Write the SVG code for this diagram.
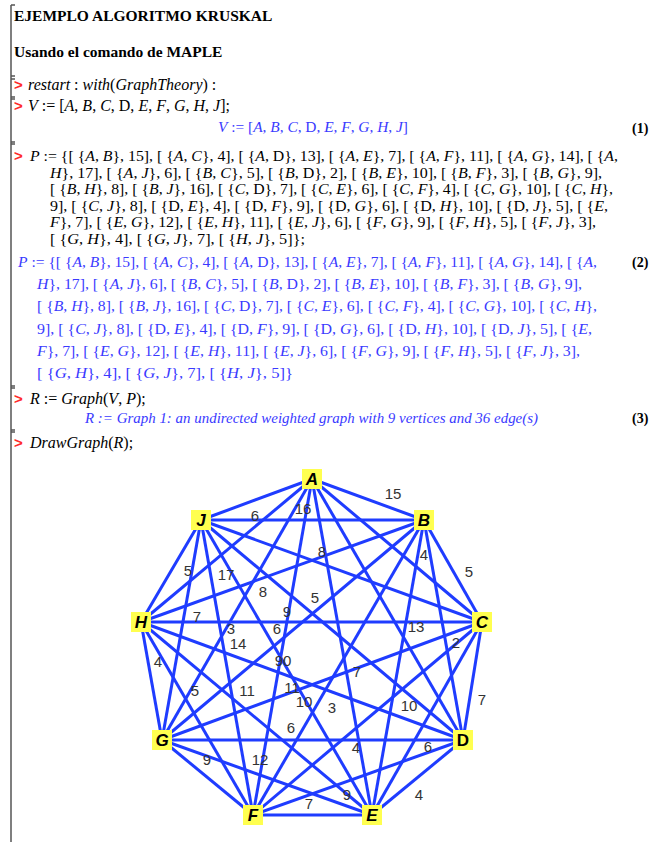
<svg xmlns="http://www.w3.org/2000/svg" width="650" height="842" viewBox="0 0 650 842">
<style>
.bg{fill:#ffffff}
.br{stroke:#555;stroke-width:1.5;fill:none}
.h{font-family:"Liberation Serif",serif;font-weight:bold;font-size:15.5px;fill:#000}
.pr{font-family:"Liberation Sans",sans-serif;font-weight:bold;font-size:15px;fill:#ff2a2a}
.in{font-family:"Liberation Serif",serif;font-size:16px;fill:#000}
.pin{font-family:"Liberation Serif",serif;font-size:14.5px;fill:#000}
.out{font-family:"Liberation Serif",serif;font-size:15px;fill:#3a3aff}
.i{font-style:italic}
.num{font-family:"Liberation Serif",serif;font-weight:bold;font-size:14px;fill:#000}
.e{stroke:#1f3cff;stroke-width:3;fill:none}
.nb{fill:#ffff4f}
.nl{font-family:"Liberation Sans",sans-serif;font-weight:bold;font-style:italic;font-size:17px;fill:#000;text-anchor:middle}
.wl{font-family:"Liberation Sans",sans-serif;font-size:15px;fill:#333;text-anchor:middle}
</style>
<rect class="bg" x="0" y="0" width="650" height="842"/>
<g id="brackets">
<path class="br" d="M11,5 V842 M11,5 H15 M11,76 H15 M11,79 H15 M11,97 H15 M11,99 H15 M11,142 H15 M11,144 H15 M11,386 H15 M11,388 H15 M11,430 H15 M11,432 H15"/>
</g>
<g id="worksheet-text">
<text class="h" x="14" y="21">EJEMPLO ALGORITMO KRUSKAL</text>
<text class="h" x="14" y="57">Usando el comando de MAPLE</text>
<text class="pr" x="14" y="90">&gt;</text>
<text class="in" x="28" y="90"><tspan class="i">restart</tspan> : <tspan class="i">with</tspan>(<tspan class="i">GraphTheory</tspan>) :</text>
<text class="pr" x="14" y="111">&gt;</text>
<text class="in" x="28" y="111"><tspan class="i">V</tspan> := [<tspan class="i">A</tspan>, <tspan class="i">B</tspan>, <tspan class="i">C</tspan>, D, <tspan class="i">E</tspan>, <tspan class="i">F</tspan>, <tspan class="i">G</tspan>, <tspan class="i">H</tspan>, <tspan class="i">J</tspan>];</text>
<text class="out" x="218" y="132" textLength="190" lengthAdjust="spacingAndGlyphs"><tspan class="i">V</tspan> := [<tspan class="i">A</tspan>, <tspan class="i">B</tspan>, <tspan class="i">C</tspan>, D, <tspan class="i">E</tspan>, <tspan class="i">F</tspan>, <tspan class="i">G</tspan>, <tspan class="i">H</tspan>, <tspan class="i">J</tspan>]</text>
<text class="num" x="632" y="133">(1)</text>

<text class="pr" x="14" y="161">&gt;</text>
<text class="pin" x="30" y="161" textLength="588" lengthAdjust="spacingAndGlyphs"><tspan class="i">P</tspan> := {[ {<tspan class="i">A</tspan>, <tspan class="i">B</tspan>}, 15], [ {<tspan class="i">A</tspan>, <tspan class="i">C</tspan>}, 4], [ {<tspan class="i">A</tspan>, D}, 13], [ {<tspan class="i">A</tspan>, <tspan class="i">E</tspan>}, 7], [ {<tspan class="i">A</tspan>, <tspan class="i">F</tspan>}, 11], [ {<tspan class="i">A</tspan>, <tspan class="i">G</tspan>}, 14], [ {<tspan class="i">A</tspan>,</text>
<text class="pin" x="50" y="177.5" textLength="552" lengthAdjust="spacingAndGlyphs"><tspan class="i">H</tspan>}, 17], [ {<tspan class="i">A</tspan>, <tspan class="i">J</tspan>}, 6], [ {<tspan class="i">B</tspan>, <tspan class="i">C</tspan>}, 5], [ {<tspan class="i">B</tspan>, D}, 2], [ {<tspan class="i">B</tspan>, <tspan class="i">E</tspan>}, 10], [ {<tspan class="i">B</tspan>, <tspan class="i">F</tspan>}, 3], [ {<tspan class="i">B</tspan>, <tspan class="i">G</tspan>}, 9],</text>
<text class="pin" x="50" y="194" textLength="563" lengthAdjust="spacingAndGlyphs">[ {<tspan class="i">B</tspan>, <tspan class="i">H</tspan>}, 8], [ {<tspan class="i">B</tspan>, <tspan class="i">J</tspan>}, 16], [ {<tspan class="i">C</tspan>, D}, 7], [ {<tspan class="i">C</tspan>, <tspan class="i">E</tspan>}, 6], [ {<tspan class="i">C</tspan>, <tspan class="i">F</tspan>}, 4], [ {<tspan class="i">C</tspan>, <tspan class="i">G</tspan>}, 10], [ {<tspan class="i">C</tspan>, <tspan class="i">H</tspan>},</text>
<text class="pin" x="50" y="210.5" textLength="558" lengthAdjust="spacingAndGlyphs">9], [ {<tspan class="i">C</tspan>, <tspan class="i">J</tspan>}, 8], [ {D, <tspan class="i">E</tspan>}, 4], [ {D, <tspan class="i">F</tspan>}, 9], [ {D, <tspan class="i">G</tspan>}, 6], [ {D, <tspan class="i">H</tspan>}, 10], [ {D, <tspan class="i">J</tspan>}, 5], [ {<tspan class="i">E</tspan>,</text>
<text class="pin" x="50" y="227" textLength="546" lengthAdjust="spacingAndGlyphs"><tspan class="i">F</tspan>}, 7], [ {<tspan class="i">E</tspan>, <tspan class="i">G</tspan>}, 12], [ {<tspan class="i">E</tspan>, <tspan class="i">H</tspan>}, 11], [ {<tspan class="i">E</tspan>, <tspan class="i">J</tspan>}, 6], [ {<tspan class="i">F</tspan>, <tspan class="i">G</tspan>}, 9], [ {<tspan class="i">F</tspan>, <tspan class="i">H</tspan>}, 5], [ {<tspan class="i">F</tspan>, <tspan class="i">J</tspan>}, 3],</text>
<text class="pin" x="50" y="243.5" textLength="255" lengthAdjust="spacingAndGlyphs">[ {<tspan class="i">G</tspan>, <tspan class="i">H</tspan>}, 4], [ {<tspan class="i">G</tspan>, <tspan class="i">J</tspan>}, 7], [ {<tspan class="i">H</tspan>, <tspan class="i">J</tspan>}, 5]};</text>

<text class="out" x="18" y="267" textLength="579" lengthAdjust="spacingAndGlyphs"><tspan class="i">P</tspan> := {[ {<tspan class="i">A</tspan>, <tspan class="i">B</tspan>}, 15], [ {<tspan class="i">A</tspan>, <tspan class="i">C</tspan>}, 4], [ {<tspan class="i">A</tspan>, D}, 13], [ {<tspan class="i">A</tspan>, <tspan class="i">E</tspan>}, 7], [ {<tspan class="i">A</tspan>, <tspan class="i">F</tspan>}, 11], [ {<tspan class="i">A</tspan>, <tspan class="i">G</tspan>}, 14], [ {<tspan class="i">A</tspan>,</text>
<text class="num" x="632" y="267">(2)</text>
<text class="out" x="37" y="289" textLength="545" lengthAdjust="spacingAndGlyphs"><tspan class="i">H</tspan>}, 17], [ {<tspan class="i">A</tspan>, <tspan class="i">J</tspan>}, 6], [ {<tspan class="i">B</tspan>, <tspan class="i">C</tspan>}, 5], [ {<tspan class="i">B</tspan>, D}, 2], [ {<tspan class="i">B</tspan>, <tspan class="i">E</tspan>}, 10], [ {<tspan class="i">B</tspan>, <tspan class="i">F</tspan>}, 3], [ {<tspan class="i">B</tspan>, <tspan class="i">G</tspan>}, 9],</text>
<text class="out" x="37" y="311" textLength="560" lengthAdjust="spacingAndGlyphs">[ {<tspan class="i">B</tspan>, <tspan class="i">H</tspan>}, 8], [ {<tspan class="i">B</tspan>, <tspan class="i">J</tspan>}, 16], [ {<tspan class="i">C</tspan>, D}, 7], [ {<tspan class="i">C</tspan>, <tspan class="i">E</tspan>}, 6], [ {<tspan class="i">C</tspan>, <tspan class="i">F</tspan>}, 4], [ {<tspan class="i">C</tspan>, <tspan class="i">G</tspan>}, 10], [ {<tspan class="i">C</tspan>, <tspan class="i">H</tspan>},</text>
<text class="out" x="37" y="334" textLength="555" lengthAdjust="spacingAndGlyphs">9], [ {<tspan class="i">C</tspan>, <tspan class="i">J</tspan>}, 8], [ {D, <tspan class="i">E</tspan>}, 4], [ {D, <tspan class="i">F</tspan>}, 9], [ {D, <tspan class="i">G</tspan>}, 6], [ {D, <tspan class="i">H</tspan>}, 10], [ {D, <tspan class="i">J</tspan>}, 5], [ {<tspan class="i">E</tspan>,</text>
<text class="out" x="37" y="356" textLength="543" lengthAdjust="spacingAndGlyphs"><tspan class="i">F</tspan>}, 7], [ {<tspan class="i">E</tspan>, <tspan class="i">G</tspan>}, 12], [ {<tspan class="i">E</tspan>, <tspan class="i">H</tspan>}, 11], [ {<tspan class="i">E</tspan>, <tspan class="i">J</tspan>}, 6], [ {<tspan class="i">F</tspan>, <tspan class="i">G</tspan>}, 9], [ {<tspan class="i">F</tspan>, <tspan class="i">H</tspan>}, 5], [ {<tspan class="i">F</tspan>, <tspan class="i">J</tspan>}, 3],</text>
<text class="out" x="37" y="378" textLength="256" lengthAdjust="spacingAndGlyphs">[ {<tspan class="i">G</tspan>, <tspan class="i">H</tspan>}, 4], [ {<tspan class="i">G</tspan>, <tspan class="i">J</tspan>}, 7], [ {<tspan class="i">H</tspan>, <tspan class="i">J</tspan>}, 5]}</text>

<text class="pr" x="14" y="404">&gt;</text>
<text class="in" x="30" y="404"><tspan class="i">R</tspan> := <tspan class="i">Graph</tspan>(<tspan class="i">V</tspan>, <tspan class="i">P</tspan>);</text>
<text class="out i" x="85" y="423" textLength="453" lengthAdjust="spacingAndGlyphs">R := Graph 1: an undirected weighted graph with 9 vertices and 36 edge(s)</text>
<text class="num" x="632" y="423">(3)</text>
<text class="pr" x="14" y="448">&gt;</text>
<text class="in" x="30" y="448"><tspan class="i">DrawGraph</tspan>(<tspan class="i">R</tspan>);</text>
</g>
<g id="connectors">
<line class="e" x1="312" y1="479" x2="424" y2="520"/>
<line class="e" x1="312" y1="479" x2="482" y2="622"/>
<line class="e" x1="312" y1="479" x2="463" y2="740"/>
<line class="e" x1="312" y1="479" x2="372" y2="815"/>
<line class="e" x1="312" y1="479" x2="253" y2="815"/>
<line class="e" x1="312" y1="479" x2="162" y2="740"/>
<line class="e" x1="312" y1="479" x2="141" y2="622"/>
<line class="e" x1="312" y1="479" x2="201" y2="520"/>
<line class="e" x1="424" y1="520" x2="482" y2="622"/>
<line class="e" x1="424" y1="520" x2="463" y2="740"/>
<line class="e" x1="424" y1="520" x2="372" y2="815"/>
<line class="e" x1="424" y1="520" x2="253" y2="815"/>
<line class="e" x1="424" y1="520" x2="162" y2="740"/>
<line class="e" x1="424" y1="520" x2="141" y2="622"/>
<line class="e" x1="424" y1="520" x2="201" y2="520"/>
<line class="e" x1="482" y1="622" x2="463" y2="740"/>
<line class="e" x1="482" y1="622" x2="372" y2="815"/>
<line class="e" x1="482" y1="622" x2="253" y2="815"/>
<line class="e" x1="482" y1="622" x2="162" y2="740"/>
<line class="e" x1="482" y1="622" x2="141" y2="622"/>
<line class="e" x1="482" y1="622" x2="201" y2="520"/>
<line class="e" x1="463" y1="740" x2="372" y2="815"/>
<line class="e" x1="463" y1="740" x2="253" y2="815"/>
<line class="e" x1="463" y1="740" x2="162" y2="740"/>
<line class="e" x1="463" y1="740" x2="141" y2="622"/>
<line class="e" x1="463" y1="740" x2="201" y2="520"/>
<line class="e" x1="372" y1="815" x2="253" y2="815"/>
<line class="e" x1="372" y1="815" x2="162" y2="740"/>
<line class="e" x1="372" y1="815" x2="141" y2="622"/>
<line class="e" x1="372" y1="815" x2="201" y2="520"/>
<line class="e" x1="253" y1="815" x2="162" y2="740"/>
<line class="e" x1="253" y1="815" x2="141" y2="622"/>
<line class="e" x1="253" y1="815" x2="201" y2="520"/>
<line class="e" x1="162" y1="740" x2="141" y2="622"/>
<line class="e" x1="162" y1="740" x2="201" y2="520"/>
<line class="e" x1="141" y1="622" x2="201" y2="520"/>
</g>
<g id="edge-labels">
<text class="wl" x="393" y="499">15</text>
<text class="wl" x="303" y="514">16</text>
<text class="wl" x="255" y="521">6</text>
<text class="wl" x="322" y="557">8</text>
<text class="wl" x="424" y="560">4</text>
<text class="wl" x="469" y="577">5</text>
<text class="wl" x="188" y="576">5</text>
<text class="wl" x="226" y="580">17</text>
<text class="wl" x="263" y="597">8</text>
<text class="wl" x="315" y="603">5</text>
<text class="wl" x="287" y="617">9</text>
<text class="wl" x="197" y="622">7</text>
<text class="wl" x="231" y="634">3</text>
<text class="wl" x="277" y="634">6</text>
<text class="wl" x="416" y="632">13</text>
<text class="wl" x="456" y="648">2</text>
<text class="wl" x="238" y="649">14</text>
<text class="wl" x="283" y="666">90</text>
<text class="wl" x="158" y="667">4</text>
<text class="wl" x="357" y="677">7</text>
<text class="wl" x="195" y="696">5</text>
<text class="wl" x="247" y="696">11</text>
<text class="wl" x="292" y="693">11</text>
<text class="wl" x="304" y="707">10</text>
<text class="wl" x="332" y="713">3</text>
<text class="wl" x="409" y="711">10</text>
<text class="wl" x="482" y="705">7</text>
<text class="wl" x="291" y="733">6</text>
<text class="wl" x="356" y="753">4</text>
<text class="wl" x="428" y="752">6</text>
<text class="wl" x="207" y="765">9</text>
<text class="wl" x="260" y="765">12</text>
<text class="wl" x="347" y="800">9</text>
<text class="wl" x="309" y="809">7</text>
<text class="wl" x="419" y="800">4</text>
</g>
<g id="node-A"><rect class="nb" x="302" y="469" width="20" height="20"/><text class="nl" x="312" y="485">A</text></g>
<g id="node-B"><rect class="nb" x="414" y="510" width="20" height="20"/><text class="nl" x="424" y="526">B</text></g>
<g id="node-C"><rect class="nb" x="472" y="612" width="20" height="20"/><text class="nl" x="482" y="628">C</text></g>
<g id="node-D"><rect class="nb" x="453" y="730" width="20" height="20"/><text class="nl" x="463" y="746" style="font-style:normal">D</text></g>
<g id="node-E"><rect class="nb" x="362" y="805" width="20" height="20"/><text class="nl" x="372" y="821">E</text></g>
<g id="node-F"><rect class="nb" x="243" y="805" width="20" height="20"/><text class="nl" x="253" y="821">F</text></g>
<g id="node-G"><rect class="nb" x="152" y="730" width="20" height="20"/><text class="nl" x="162" y="746">G</text></g>
<g id="node-H"><rect class="nb" x="131" y="612" width="20" height="20"/><text class="nl" x="141" y="628">H</text></g>
<g id="node-J"><rect class="nb" x="191" y="510" width="20" height="20"/><text class="nl" x="201" y="526">J</text></g>
</svg>
